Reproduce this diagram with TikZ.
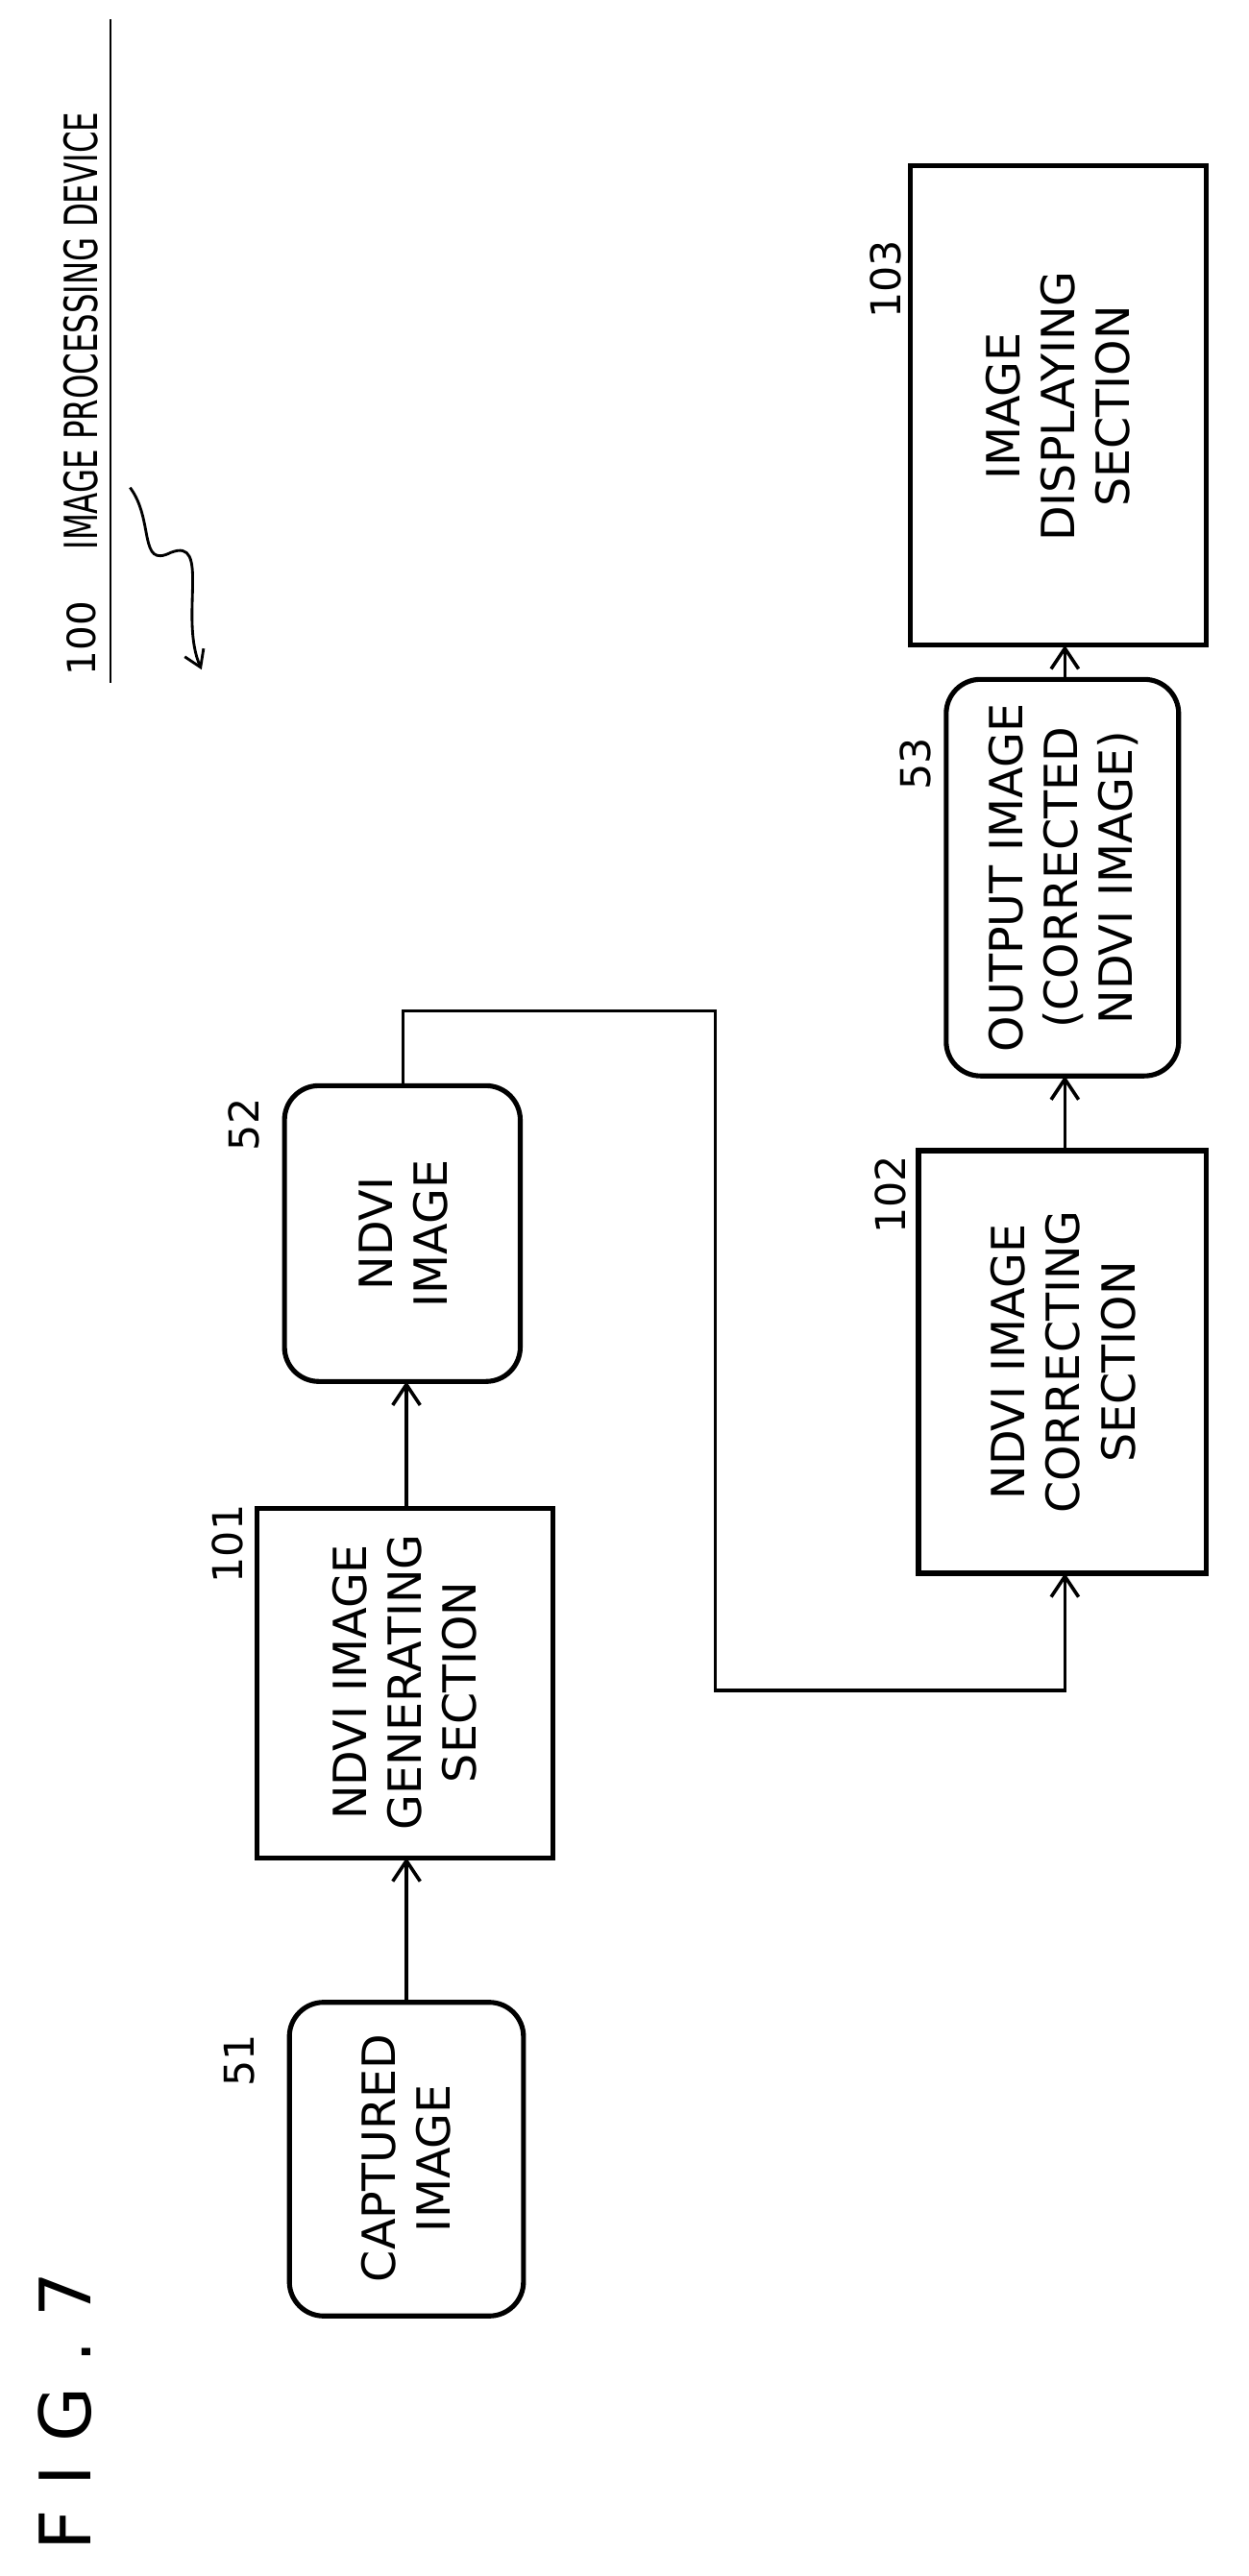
\documentclass[tikz,border=0pt]{standalone}
\usepackage{fontspec}
\setmainfont{DejaVu Sans}
\usetikzlibrary{arrows.meta}
\begin{document}
\begin{tikzpicture}[x=0.05cm,y=-0.05cm,
  txt/.style={rotate=90,align=center,font=\fontsize{40}{48}\selectfont},
  box/.style={draw,line width=4.3pt,inner sep=0pt},
  rbox/.style={box,rounded corners=30pt},
  lab/.style={rotate=90,font=\fontsize{36}{42}\selectfont},
  con/.style={line width=3pt,-{Straight Barb[length=18pt,width=24pt,line width=3pt]}}]
\useasboundingbox (0,0) rectangle (768,1585);
\draw[rbox] (178,1232) rectangle (322,1425); \node[txt] (n51) at (250,1328) {CAPTURED\\IMAGE};
\node[lab] (l51) at (147,1268) {51};
\draw[box] (158,928) rectangle (340,1143); \node[txt] (n101) at (249,1035) {NDVI IMAGE\\GENERATING\\SECTION};
\node[lab] (l101) at (140,950) {101};
\draw[rbox] (175,668) rectangle (320,850); \node[txt] (n52) at (248,759) {NDVI\\IMAGE};
\node[lab] (l52) at (150,692) {52};
\draw[box] (565,708) rectangle (742,968); \node[txt] (n102) at (654,838) {NDVI IMAGE\\CORRECTING\\SECTION};
\node[lab] (l102) at (548,735) {102};
\draw[rbox] (582,418) rectangle (725,662); \node[txt] (n53) at (654,540) {OUTPUT IMAGE\\(CORRECTED\\NDVI IMAGE)};
\node[lab] (l53) at (563,470) {53};
\draw[box] (560,102) rectangle (742,397); \node[txt] (n103) at (651,250) {IMAGE\\DISPLAYING\\SECTION};
\node[lab] (l103) at (545,172) {103};
\coordinate (a1) at (250,1232); \coordinate (a2) at (250,1143);
\draw[con] (a1) -- (a2);
\coordinate (b1) at (250,928); \coordinate (b2) at (250,850);
\draw[con] (b1) -- (b2);
\coordinate (c1) at (248,668); \coordinate (c2) at (655,968);
\draw[con] (c1) -- (248,622) -- (440,622) -- (440,1040) -- (655,1040) -- (c2);
\coordinate (d1) at (655,708); \coordinate (d2) at (655,662);
\draw[con] (d1) -- (d2);
\coordinate (e1) at (655,418); \coordinate (e2) at (655,397);
\draw[con] (e1) -- (e2);
\node[rotate=90,font=\fontsize{62}{70}\selectfont,anchor=west] (fig) at (40,1572) {F\,\,I\,\,G\,\,.\,\,7};
\node[rotate=90,anchor=west,font=\fontsize{34}{40}\selectfont] (l100) at (50,418) {100};
\node[rotate=90,anchor=west,font=\fontsize{40}{46}\selectfont,xscale=0.68] (t100) at (50,340) {IMAGE PROCESSING DEVICE};
\draw[line width=2.2pt] (68,420) -- (68,12);
\draw[line width=2.4pt,-{Straight Barb[length=14pt,width=18pt,line width=2.4pt]}] (80,300) .. controls (95,320) and (85,350) .. (105,340) .. controls (130,330) and (110,380) .. (124,412);
\end{tikzpicture}
\end{document}
